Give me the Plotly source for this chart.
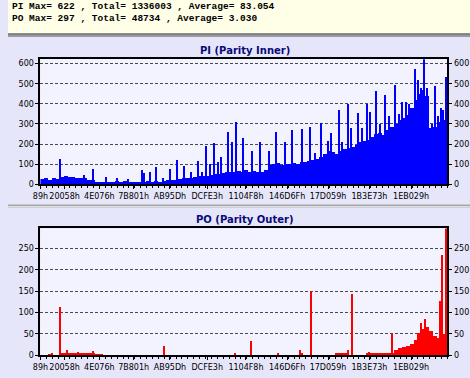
import plotly.graph_objects as go
import numpy as np

# ---------------- data ----------------
header_lines = [
    "PI Max= 622 , Total= 1336003 , Average= 83.054",
    "PO Max= 297 , Total= 48734 , Average= 3.030",
]
tick_labels = ["89h", "20058h", "4E076h", "7B801h", "AB95Dh", "DCFE3h",
               "1104F8h", "146D6Fh", "17D059h", "1B3E73h", "1EB029h"]
lba_start = 137
lba_end = 2208413
bin_size = 21336          # sectors per sample bin

pi_base = [25, 28, 22, 30, 27, 35, 38, 35, 33, 30, 32, 28, 22, 18, 12, 10, 12, 8, 12, 14,
           10, 15, 12, 8, 10, 12, 10, 14, 12, 15, 12, 16, 18, 20, 22, 25, 28, 30, 32, 35,
           38, 40, 42, 45, 50, 52, 55, 58, 62, 60, 65, 62, 68, 60, 65, 58, 62, 70, 95, 100,
           105, 95, 100, 98, 105, 100, 110, 108, 115, 120, 125, 135, 150, 165, 160, 150, 165, 175, 180, 185,
           195, 210, 215, 220, 235, 250, 255, 245, 270, 285, 300, 320, 330, 345, 380, 420, 450, 470, 440, 280,
           285, 310, 320, 330]
pi_spike_lba = [112014, 240030, 288036, 357378, 421386, 480060, 554736, 565404, 597408, 629412,
                666750, 704088, 746760, 784098, 821436, 858774, 880110, 901446, 922782, 944118,
                965454, 981456, 1018794, 1040130, 1066800, 1104138, 1152144, 1194816, 1242822, 1280160,
                1328166, 1370838, 1424178, 1466850, 1493520, 1525524, 1562862, 1578864, 1621536, 1637538,
                1674876, 1690878, 1728216, 1749552, 1776222, 1792224, 1824228, 1845564, 1872234, 1893570,
                1925574, 1946910, 1962912, 1984248, 2005584, 2037588, 2053590, 2069592, 2085594, 2101596,
                2128266, 2144268, 2160270, 2176272, 2186940, 2202942]
pi_spike = [125, 45, 75, 35, 28, 25, 70, 55, 60, 85,
            28, 75, 120, 90, 60, 115, 60, 190, 100, 205,
            110, 135, 260, 210, 310, 230, 163, 207, 165, 260,
            210, 270, 275, 285, 155, 305, 215, 255, 370, 210,
            397, 280, 351, 280, 400, 360, 462, 300, 441, 340,
            495, 350, 410, 408, 400, 572, 520, 480, 622, 480,
            300, 490, 340, 380, 370, 531]

po_base = [0, 0, 1, 0, 0, 3, 4, 5, 3, 4, 3, 4, 3, 2, 1, 1, 0, 0, 0, 0,
           0, 0, 0, 0, 0, 0, 0, 0, 0, 0, 0, 0, 0, 0, 0, 0, 0, 0, 0, 0,
           0, 0, 0, 0, 0, 0, 0, 0, 0, 0, 0, 0, 0, 0, 0, 0, 0, 0, 0, 0,
           0, 0, 0, 0, 0, 0, 2, 0, 0, 0, 0, 0, 0, 0, 0, 3, 4, 2, 0, 0,
           0, 0, 0, 2, 3, 2, 3, 4, 3, 5, 12, 15, 18, 20, 25, 35, 50, 60, 65, 55,
           45, 40, 48, 50]
po_spike_lba = [64008, 112014, 149352, 208026, 288036, 672084, 1061466, 1146810, 1290828, 1413510,
                1472184, 1674876, 1696212, 1786890, 1909572, 2069592, 2090928, 2170938, 2181606, 2206500]
po_spike = [3, 113, 12, 6, 10, 20, 3, 33, 4, 12,
            150, 12, 143, 6, 48, 75, 85, 125, 233, 297]

pi_ticks = [0, 100, 200, 300, 400, 500, 600]
po_ticks = [0, 50, 100, 150, 200, 250]

# ---------------- build ----------------
W, H = 470, 378
def fy(px):
    return 1 - px / H

tick_vals = [int(t[:-1], 16) for t in tick_labels]
pi_base_lba = [lba_start + bin_size * (i + 0.5) for i in range(len(pi_base))]
po_base_lba = [lba_start + bin_size * (i + 0.5) for i in range(len(po_base))]
spike_w = 7000

BLUE = "#0000FF"
RED = "#FF0000"
fig = go.Figure()
fig.add_trace(go.Bar(x=pi_base_lba, y=pi_base, width=bin_size, marker=dict(color=BLUE, line=dict(width=0)),
                     xaxis="x", yaxis="y", hoverinfo="skip"))
fig.add_trace(go.Bar(x=pi_spike_lba, y=pi_spike, width=spike_w, marker=dict(color=BLUE, line=dict(width=0)),
                     xaxis="x", yaxis="y", hoverinfo="skip"))
fig.add_trace(go.Scatter(x=[lba_start], y=[0], mode="markers", opacity=0, xaxis="x", yaxis="y2", hoverinfo="skip"))
fig.add_trace(go.Bar(x=po_base_lba, y=po_base, width=bin_size, marker=dict(color=RED, line=dict(width=0)),
                     xaxis="x2", yaxis="y3", hoverinfo="skip"))
fig.add_trace(go.Bar(x=po_spike_lba, y=po_spike, width=spike_w, marker=dict(color=RED, line=dict(width=0)),
                     xaxis="x2", yaxis="y3", hoverinfo="skip"))
fig.add_trace(go.Scatter(x=[lba_start], y=[0], mode="markers", opacity=0, xaxis="x2", yaxis="y4", hoverinfo="skip"))

tickfont = dict(family="DejaVu Sans", size=8, color="#000000")
xdom = [33 / W, 447 / W]

def xaxis(anchor):
    return dict(domain=xdom, range=[lba_start, lba_end], anchor=anchor,
                tickmode="array", tickvals=tick_vals, ticktext=tick_labels, tickangle=0,
                ticks="outside", ticklen=3, tickcolor="#000", tickfont=tickfont,
                showgrid=False, zeroline=False, showline=True, linecolor="#000",
                linewidth=2, mirror=True, fixedrange=True,
                minor=dict(ticks="outside", ticklen=2, tickcolor="#000", tickmode="linear",
                           tick0=lba_start, dtick=32004, showgrid=False))

def yaxis(dom, rng, tv, side="left", overlay=None, grid=True, anchor="x"):
    d = dict(domain=dom, range=rng, tickmode="array", tickvals=tv, anchor=anchor,
             ticks="outside", ticklen=3, tickcolor="#000", tickfont=tickfont,
             showgrid=grid, gridcolor="#4a4a4a", griddash="3px,2px", gridwidth=1,
             zeroline=False, showline=True, linecolor="#000", linewidth=2, mirror=True,
             side=side, fixedrange=True)
    if overlay:
        d["overlaying"] = overlay
    return d

dom1 = [fy(186.7), fy(60)]
dom2 = [fy(360), fy(231.5)]

shapes = [
    dict(type="rect", xref="paper", yref="paper", x0=0, x1=1, y0=fy(34), y1=1,
         fillcolor="#FFFFE8", line=dict(width=0), layer="below"),
    dict(type="line", xref="paper", yref="paper", x0=0, x1=1, y0=fy(34.5), y1=fy(34.5),
         line=dict(color="#202020", width=1)),
    dict(type="line", xref="paper", yref="paper", x0=0, x1=1, y0=fy(36.5), y1=fy(36.5),
         line=dict(color="#808080", width=1.5)),
    dict(type="line", xref="paper", yref="paper", x0=0, x1=1, y0=fy(208), y1=fy(208),
         line=dict(color="#A8A8A8", width=1.5)),
    dict(type="line", xref="paper", yref="paper", x0=0, x1=1, y0=fy(210), y1=fy(210),
         line=dict(color="#D0D0D0", width=1.5)),
]

annotations = [
    dict(text="<b>" + header_lines[0] + "</b>", xref="paper", yref="paper", x=2 / W, y=fy(7),
         xanchor="left", yanchor="middle",
         showarrow=False, font=dict(family="Liberation Mono", size=9.5, color="#000")),
    dict(text="<b>" + header_lines[1] + "</b>", xref="paper", yref="paper", x=2 / W, y=fy(19),
         xanchor="left", yanchor="middle",
         showarrow=False, font=dict(family="Liberation Mono", size=9.5, color="#000")),
    dict(text="<b>PI (Parity Inner)</b>", xref="paper", yref="paper", x=241 / W, y=fy(51), xanchor="center",
         yanchor="middle", showarrow=False, font=dict(family="DejaVu Sans", size=10, color="#0A0A78")),
    dict(text="<b>PO (Parity Outer)</b>", xref="paper", yref="paper", x=241 / W, y=fy(222), xanchor="center",
         yanchor="middle", showarrow=False, font=dict(family="DejaVu Sans", size=10, color="#0A0A78")),
]

fig.update_layout(
    width=W, height=H, margin=dict(l=0, r=0, t=0, b=0),
    paper_bgcolor="#E6E6FA", plot_bgcolor="#F3F3FF",
    showlegend=False, barmode="overlay", bargap=0,
    xaxis=xaxis("y"), xaxis2=xaxis("y3"),
    yaxis=yaxis(dom1, [0, 622], pi_ticks),
    yaxis2=yaxis(dom1, [0, 622], pi_ticks, side="right", overlay="y", grid=False),
    yaxis3=yaxis(dom2, [0, 297], po_ticks, anchor="x2"),
    yaxis4=yaxis(dom2, [0, 297], po_ticks, side="right", overlay="y3", grid=False, anchor="x2"),
    shapes=shapes, annotations=annotations,
)
fig.write_html("out.html", config={"displayModeBar": False},
               post_script="document.body.style.margin='0';document.body.style.overflow='hidden';")
